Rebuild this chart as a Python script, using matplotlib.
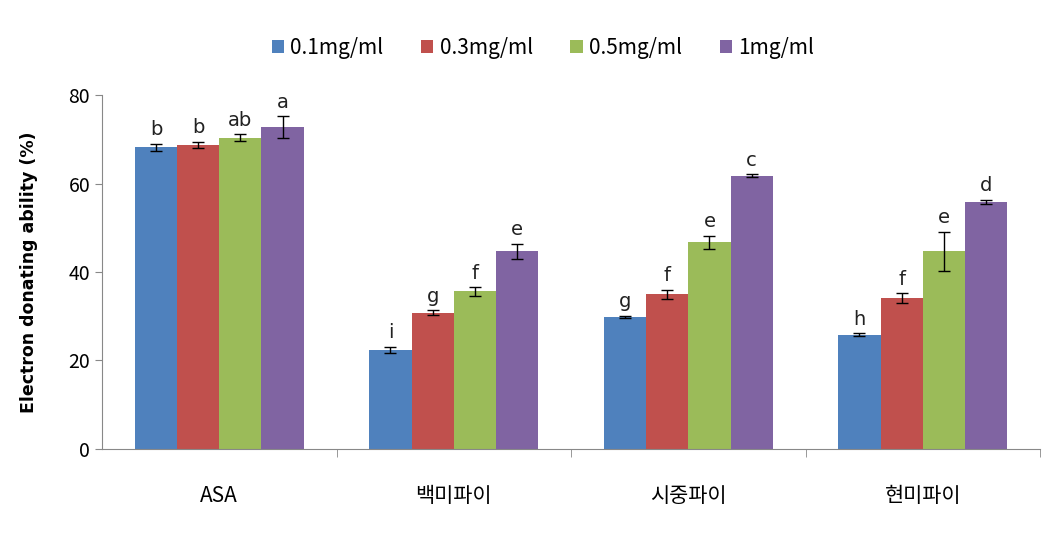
import matplotlib
matplotlib.use('Agg')
import matplotlib.pyplot as plt
import numpy as np

plt.rcParams['font.family'] = ['Noto Sans CJK KR', 'DejaVu Sans']

# data
categories = ['ASA', '백미파이', '시중파이', '현미파이']
series = ['0.1mg/ml', '0.3mg/ml', '0.5mg/ml', '1mg/ml']
colors = ['#4F81BD', '#C0504D', '#9BBB59', '#8064A2']

vals = [
    [68.2, 22.4, 29.8, 25.8],
    [68.7, 30.8, 35.0, 34.1],
    [70.3, 35.6, 46.7, 44.7],
    [72.7, 44.7, 61.8, 55.8],
]
errs = [
    [0.8, 0.7, 0.3, 0.3],
    [0.7, 0.6, 1.0, 1.1],
    [0.8, 1.0, 1.5, 4.4],
    [2.5, 1.7, 0.3, 0.5],
]
letters = [
    ['b', 'i', 'g', 'h'],
    ['b', 'g', 'f', 'f'],
    ['ab', 'f', 'e', 'e'],
    ['a', 'e', 'c', 'd'],
]

fig = plt.figure(figsize=(10.53, 5.48), dpi=100)
ax = fig.add_axes([0.0969, 0.1807, 0.8908, 0.6459])

x = np.arange(len(categories))
w = 0.18
for i in range(4):
    pos = x + (i - 1.5) * w
    ax.bar(pos, vals[i], w, color=colors[i], label=series[i])
    ax.errorbar(pos, vals[i], yerr=errs[i], fmt='none', ecolor='black',
                elinewidth=1, capsize=4, capthick=1)
    for p, v, e, t in zip(pos, vals[i], errs[i], letters[i]):
        ax.text(p, v + e + 1.0, t, ha='center', va='bottom', fontsize=14,
                family='DejaVu Sans', color='#222222')

ax.set_xlim(-0.5, 3.5)
ax.set_ylim(0, 80)
ax.set_yticks([0, 20, 40, 60, 80])
ax.tick_params(axis='y', labelsize=14, direction='out', length=5, color='#888888')
ax.set_xticks(x)
ax.set_xticklabels(categories, fontsize=15)
ax.tick_params(axis='x', which='major', length=0, pad=26)
ax.set_xticks([0.5, 1.5, 2.5, 3.5], minor=True)
ax.tick_params(axis='x', which='minor', length=6, direction='out', color='#888888')

for s in ['top', 'right']:
    ax.spines[s].set_visible(False)
for s in ['left', 'bottom']:
    ax.spines[s].set_color('#888888')

ax.set_ylabel('Electron donating ability (%)', fontsize=12.5, fontweight='bold',
              family='DejaVu Sans', labelpad=22)

ax.legend(loc='lower center', bbox_to_anchor=(0.47, 1.05), ncol=4, frameon=False,
          fontsize=15, handlelength=0.6, handleheight=0.6, handletextpad=0.3,
          columnspacing=1.8)

fig.savefig('out.png', dpi=100)
